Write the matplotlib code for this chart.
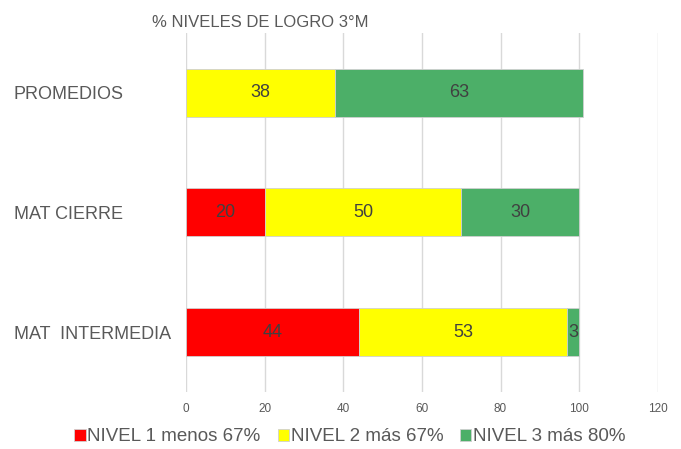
import matplotlib.pyplot as plt
import numpy as np

categories = ['PROMEDIOS', 'MAT CIERRE', 'MAT  INTERMEDIA']
nivel1 = [0, 20, 44]
nivel2 = [38, 50, 53]
nivel3 = [63, 30, 3]
series_names = ['NIVEL 1 menos 67%', 'NIVEL 2 más 67%', 'NIVEL 3 más 80%']
colors = ['#ff0000', '#ffff00', '#4caf68']
xticks = [0, 20, 40, 60, 80, 100, 120]

plt.rcParams['font.family'] = ['Liberation Sans', 'DejaVu Sans']

fig = plt.figure(figsize=(6.81, 4.49), dpi=100)
ax = fig.add_axes([0.273, 0.127, 0.693, 0.80])

y = np.arange(len(categories))
left = np.zeros(len(categories))
for vals, name, col in zip([nivel1, nivel2, nivel3], series_names, colors):
    vals = np.array(vals)
    bars = ax.barh(y, vals, left=left, height=0.4, color=col, label=name,
                   edgecolor='#d0d0d0', linewidth=0.6, zorder=3)
    for b, v in zip(bars, vals):
        if v > 0:
            ax.text(b.get_x() + b.get_width() / 2, b.get_y() + b.get_height() / 2,
                    str(v), ha='center', va='center', fontsize=13,
                    color='#404040', zorder=4)
    left = left + vals

ax.set_xlim(0, 120)
ax.set_ylim(len(categories) - 0.5, -0.5)
ax.set_xticks(xticks)
ax.set_yticks(y)
ax.set_yticklabels(categories, ha='left', fontsize=13, color='#595959')
# labels start near the left edge of the figure
ax.tick_params(axis='y', length=0, pad=124)
ax.tick_params(axis='x', length=0, labelsize=8.5, colors='#595959', pad=8)
ax.grid(axis='x', color='#d9d9d9', linewidth=1, zorder=0)
for s in ax.spines.values():
    s.set_visible(False)

fig.text(0.382, 0.951, '% NIVELES DE LOGRO 3°M', fontsize=12,
         color='#595959', ha='center', va='center')

fig.legend(loc='center', bbox_to_anchor=(0.514, 0.027), ncol=3,
           frameon=False, fontsize=13.5, handlelength=0.6, handleheight=0.6,
           handletextpad=0.1, columnspacing=0.9, labelcolor='#595959')

fig.savefig('out.png', dpi=100)
